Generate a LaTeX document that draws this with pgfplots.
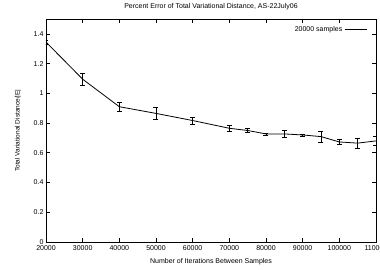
\documentclass[border=0pt]{standalone}
\usepackage{pgfplots}
\pgfplotsset{compat=1.18}
\usepackage{fontspec}
\setmainfont{Liberation Sans}
\begin{document}
\fontsize{7}{8}\selectfont
\begin{tikzpicture}
\begin{axis}[
  scale only axis,
  width=330pt, height=223pt,
  xmin=20000, xmax=110000,
  ymin=0, ymax=1.5,
  xtick={20000,30000,...,110000},
  ytick={0,0.2,...,1.4},
  scaled x ticks=false,
  /pgf/number format/fixed,
  /pgf/number format/1000 sep={},
  /pgf/number format/assume math mode=true,
  tick align=inside,
  major tick length=4pt,
  tick style={black, line width=0.6pt},
  axis line style={line width=0.8pt},
  ticklabel style={font=\fontsize{7}{8}\selectfont},
  xticklabel style={yshift=-1pt},
  xlabel={Number of Iterations Between Samples},
  xlabel style={at={(axis description cs:0.5,0)}, anchor=center, yshift=-20pt, font=\fontsize{7}{8}\selectfont},
  legend style={draw=none, fill=none, at={(rel axis cs:0.985,0.985)}, anchor=north east, font=\fontsize{7}{8}\selectfont},
  legend cell align=right,
  legend plot pos=right,
  legend image code/.code={\draw[#1] (0cm,0cm) -- (0.8cm,0cm);},
]
\addplot[black, line width=0.8pt, no marks,
  error bars/.cd, y dir=both, y explicit,
  error mark options={rotate=90, mark size=2.5pt, line width=0.6pt},
  error bar style={line width=0.6pt}]
  table[x=x, y=y, y error=e] {
x y e
20000 1.345 0.012
30000 1.095 0.039
40000 0.910 0.030
50000 0.865 0.042
60000 0.817 0.022
70000 0.765 0.020
75000 0.750 0.012
80000 0.727 0.006
85000 0.727 0.025
90000 0.720 0.006
95000 0.709 0.038
100000 0.673 0.018
105000 0.665 0.034
110000 0.680 0.030
};
\addlegendentry{20000 samples}
\coordinate (tt) at (axis description cs:0.5,1);
\coordinate (yl) at (axis description cs:0,0.5);
\end{axis}
\node[font=\fontsize{7}{8}\selectfont] at ([yshift=12pt]tt) {Percent Error of Total Variational Distance, AS-22July06};
\node[font=\fontsize{6.5}{7}\selectfont, rotate=90] at ([xshift=-28pt]yl) {Total Variational Distance/|E|};
\pgfresetboundingbox
\useasboundingbox (-46pt,-28pt) rectangle (334pt,242pt);
\end{tikzpicture}
\end{document}
